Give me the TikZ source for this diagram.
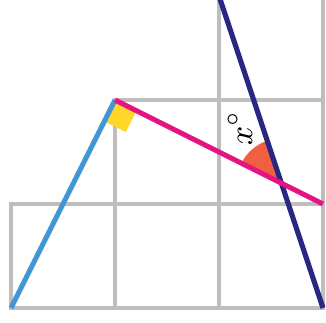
\documentclass[tikz,border=0pt]{standalone}
\usetikzlibrary{angles,calc}
\definecolor{gridgray}{RGB}{190,190,190}
\definecolor{legblue}{RGB}{66,150,214}
\definecolor{legpink}{RGB}{230,20,130}
\definecolor{legnavy}{RGB}{40,40,130}
\definecolor{markyellow}{RGB}{255,215,40}
\definecolor{markred}{RGB}{240,95,65}

\begin{document}
\begin{tikzpicture}[x=1cm,y=1cm,
  gridline/.style={gridgray, line width=1.2pt},
  leg/.style={line width=1.4pt}]
\useasboundingbox (-0.106,-0.144) rectangle (3.029,2.962);
\clip (-0.106,-0.144) rectangle (3.029,2.962);
\coordinate (O) at (0,0);
\coordinate (V) at (1,2);
\coordinate (E) at (3,1);
\coordinate (T) at (2,3);
\coordinate (B) at (3,0);
\coordinate (X) at (intersection of V--E and T--B);
% squares
\draw[gridline] (0,0) rectangle (3,1);
\draw[gridline] (1,0) -- (1,2) -- (3,2) -- (3,1);
\draw[gridline] (2,0) -- (2,3);
\draw[gridline] (3,2) -- (3,3);
% angle marks
\coordinate (s1) at ($(V)!0.23cm!(O)$);
\coordinate (s2) at ($(V)!0.23cm!(E)$);
\fill[markyellow] (V) -- (s1) -- ($(s1)+(s2)-(V)$) -- (s2) -- cycle;
\pic[fill=markred, angle radius=0.43cm] {angle=T--X--V};
% lines
\draw[leg, legblue] (O) -- (V);
\draw[leg, legnavy] (T) -- (B);
\draw[leg, legpink] (V) -- (E);
\node[font=\small, rotate=90] (xlabel) at ($(X)+(-0.4,0.53)$) {$x^\circ$};
\end{tikzpicture}
\end{document}
